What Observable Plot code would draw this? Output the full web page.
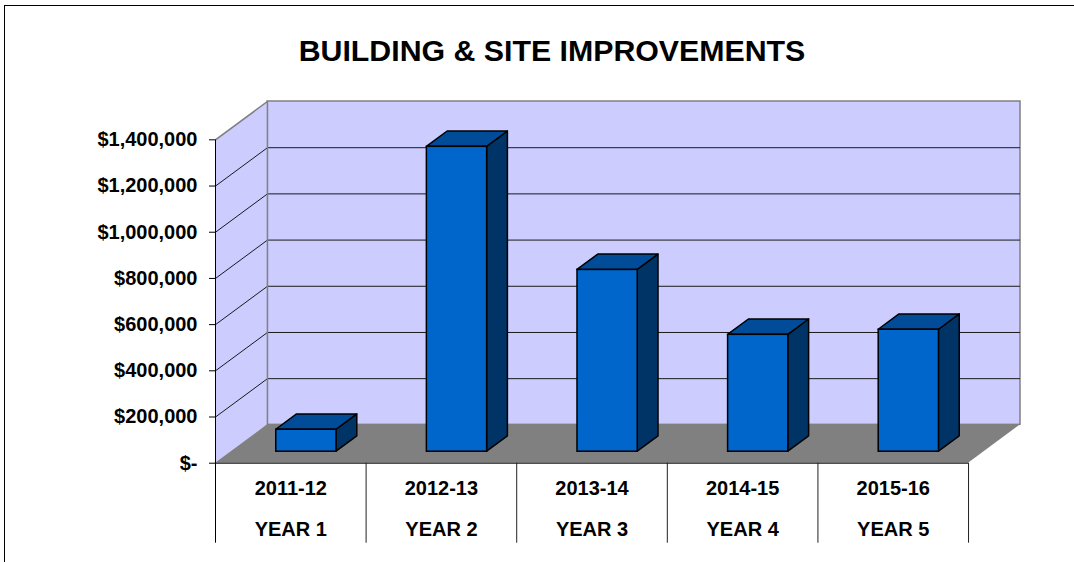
<!DOCTYPE html>
<html>
<head>
<meta charset="utf-8">
<script src="https://cdn.jsdelivr.net/npm/d3@7"></script>
<script src="https://cdn.jsdelivr.net/npm/@observablehq/plot@0.6"></script>
<style>
  html, body { margin: 0; padding: 0; background: #fff; overflow: hidden; width: 1074px; height: 562px; }
  #frame { position: absolute; left: 4px; top: 5px; width: 1200px; height: 700px; border-left: 1px solid #000; border-top: 1px solid #000; }
  #title { position: absolute; left: 0; top: 33px; width: 1104px; text-align: center; font: bold 30.3px "Liberation Sans", Arial, sans-serif; line-height: 36px; color: #000; }
  #chart { position: absolute; left: 0; top: 90px; }
</style>
</head>
<body>
<div id="frame"></div>
<div id="title">BUILDING &amp; SITE IMPROVEMENTS</div>
<div id="chart"></div>
<script>
// ---- data ----
const categories = ["2011-12", "2012-13", "2013-14", "2014-15", "2015-16"];
const yearLabels = ["YEAR 1", "YEAR 2", "YEAR 3", "YEAR 4", "YEAR 5"];
const values = [95000, 1320000, 787000, 506000, 528000];
const yTicks = [0, 200000, 400000, 600000, 800000, 1000000, 1200000, 1400000];

// ---- 3D projection (depth in data units) ----
const YMAX = 1400000;
const DX = 0.345;      // depth offset along x, in category units
const DY = 166000;     // depth offset along y, in value units
const N = categories.length;
const F0 = 0.3, F1 = 0.7;   // bar depth span (fraction of depth)
const B0 = 0.3, B1 = 0.7;   // bar width span within category

const bars = values.map((v, i) => ({i, v}));
const barDepth = bars.flatMap(b => [F0, F1].map(f => ({i: b.i, v: b.v, f})));
const gridVals = yTicks.filter(v => v > 0 && v < YMAX);
const dividers = d3.range(1, N + 1);
const unit = [0, 1];

const fmt = d => d === 0 ? "$-" : "$" + d3.format(",")(d);
const fontFamily = "'Liberation Sans', Arial, sans-serif";

const plot = Plot.plot({
  width: 1074,
  height: 472,
  marginTop: 11,
  marginBottom: 99.3,
  marginLeft: 215,
  marginRight: 54,
  x: {domain: [0, N + DX], axis: null},
  y: {domain: [0, YMAX + DY], axis: null},
  style: {fontFamily, background: "transparent", overflow: "visible", color: "#000"},
  marks: [
    // back wall
    Plot.rect([0], {x1: DX, x2: N + DX, y1: DY, y2: YMAX + DY, fill: "#CCCCFF", stroke: "#808080", strokeWidth: 1.5}),
    // left wall
    Plot.areaY(unit, {x: t => t * DX, y1: t => t * DY, y2: t => YMAX + t * DY, fill: "#CCCCFF", curve: "linear"}),
    // floor
    Plot.areaX(unit, {y: t => t * DY, x1: t => t * DX, x2: t => N + t * DX, fill: "#808080", curve: "linear"}),
    // gridlines on back wall
    Plot.ruleY(gridVals, {y: v => v + DY, x1: DX, x2: N + DX, stroke: "#1a1a1a", strokeWidth: 1}),
    // gridlines on left wall
    Plot.link(gridVals, {x1: 0, y1: v => v, x2: DX, y2: v => v + DY, stroke: "#1a1a1a", strokeWidth: 1}),
    // wall edges
    Plot.link([YMAX], {x1: 0, y1: v => v, x2: DX, y2: v => v + DY, stroke: "#808080", strokeWidth: 1.5}),
    Plot.ruleX([DX], {x: d => d, y1: DY, y2: YMAX + DY, stroke: "#808080", strokeWidth: 1.5}),
    // category axis line
    Plot.ruleY([0], {y: d => d, x1: 0, x2: N, stroke: "#000", strokeWidth: 1}),
    // value axis line (continues through the category table)
    Plot.ruleX([0], {x: d => d, y1: YMAX, y2: 0, insetBottom: -80, stroke: "#000", strokeWidth: 1}),
    // category table dividers
    Plot.ruleX(dividers, {x: d => d, y1: 0, y2: 0, insetBottom: -80, stroke: "#222", strokeWidth: 1}),
    // bar side faces
    Plot.areaY(barDepth, {x: d => d.i + B1 + d.f * DX, y1: d => d.f * DY, y2: d => d.v + d.f * DY, z: "i", fill: "#003366", stroke: "#000", strokeWidth: 1.5, strokeLinejoin: "round", curve: "linear"}),
    // bar top faces
    Plot.areaX(barDepth, {y: d => d.v + d.f * DY, x1: d => d.i + B0 + d.f * DX, x2: d => d.i + B1 + d.f * DX, z: "i", fill: "#004C99", stroke: "#000", strokeWidth: 1.5, strokeLinejoin: "round", curve: "linear"}),
    // bar front faces
    Plot.rect(bars, {x1: d => d.i + B0 + F0 * DX, x2: d => d.i + B1 + F0 * DX, y1: F0 * DY, y2: d => d.v + F0 * DY, fill: "#0066CC", stroke: "#000", strokeWidth: 1.5}),
    // category labels
    Plot.text(categories, {x: (d, i) => i + 0.5, y: 0, dy: 25, text: d => d, fontSize: 20, fontWeight: "bold", fill: "#000"}),
    Plot.text(yearLabels, {x: (d, i) => i + 0.5, y: 0, dy: 66, text: d => d, fontSize: 20, fontWeight: "bold", fill: "#000"}),
    // value axis
    Plot.axisY({ticks: yTicks, tickFormat: fmt, tickSize: 6, tickPadding: 12, fontSize: 20, fontWeight: "bold", label: null, stroke: "#000", fill: "#000"})
  ]
});
document.getElementById("chart").appendChild(plot);
</script>
</body>
</html>
